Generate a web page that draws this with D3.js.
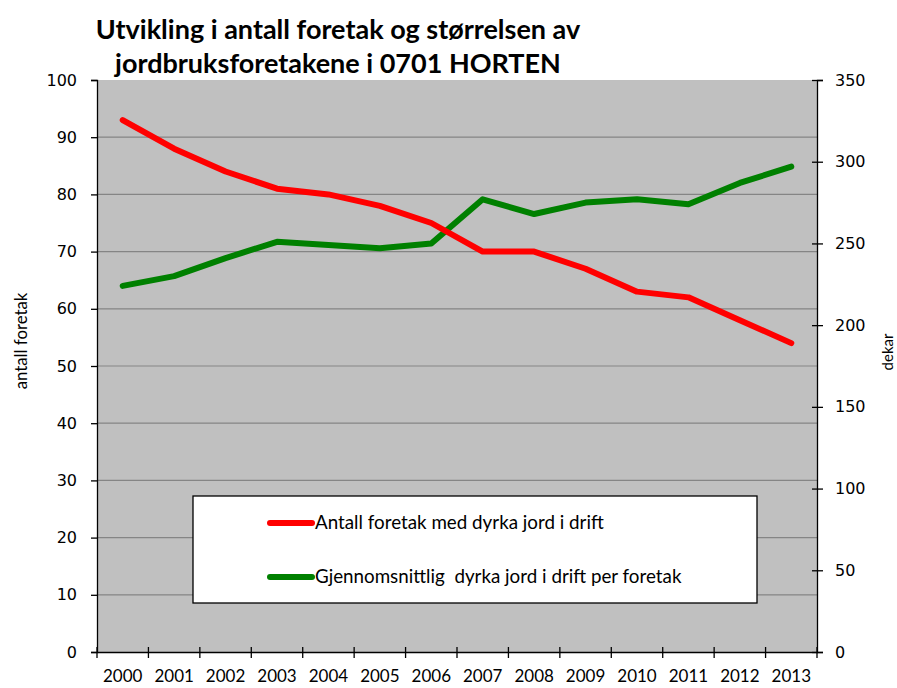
<!DOCTYPE html>
<html>
<head>
<meta charset="utf-8">
<script src="https://cdn.jsdelivr.net/npm/d3@7"></script>
<style>
  body { margin: 0; background: #fff; }
  svg { display: block; }
</style>
</head>
<body>
<div id="chart"></div>
<script>
// Horten: antall foretak og gjennomsnittlig dyrka jord per foretak

const years = ['2000', '2001', '2002', '2003', '2004', '2005', '2006',
  '2007', '2008', '2009', '2010', '2011', '2012', '2013'];
const antallForetak = [93, 88, 84, 81, 80, 78, 75, 70, 70, 67, 63, 62, 58, 54];
const dekarPerForetak = [224, 230, 241, 251, 249, 247, 250, 277, 268, 275, 277, 274, 287, 297];
const leftTicks = [0, 10, 20, 30, 40, 50, 60, 70, 80, 90, 100];
const rightTicks = [0, 50, 100, 150, 200, 250, 300, 350];
const titleLines = ['Utvikling i antall foretak og størrelsen av', 'jordbruksforetakene i 0701 HORTEN'];
const legendLabels = ['Antall foretak med dyrka jord i drift', 'Gjennomsnittlig  dyrka jord i drift per foretak'];

const width = 897;
const height = 688;
const plot = { left: 97, right: 817, top: 80, bottom: 652 };
const labelFont = 'Lato, "Open Sans", sans-serif';
const tickFont = 'Verdana, "DejaVu Sans", sans-serif';

const svg = d3.select('#chart')
  .append('svg')
  .attr('width', width)
  .attr('height', height);

const x = d3.scaleBand()
  .domain(years)
  .range([plot.left, plot.right]);

const yLeft = d3.scaleLinear()
  .domain([0, 100])
  .range([plot.bottom, plot.top]);

const yRight = d3.scaleLinear()
  .domain([0, 350])
  .range([plot.bottom, plot.top]);

// plot area background
svg.append('rect')
  .attr('x', plot.left)
  .attr('y', plot.top)
  .attr('width', plot.right - plot.left)
  .attr('height', plot.bottom - plot.top)
  .attr('fill', '#c0c0c0');

// gridlines
svg.append('g')
  .selectAll('line')
  .data(leftTicks.filter(d => d > 0 && d < 100))
  .enter().append('line')
  .attr('x1', plot.left)
  .attr('x2', plot.right)
  .attr('y1', d => yLeft(d))
  .attr('y2', d => yLeft(d))
  .attr('stroke', '#858585')
  .attr('stroke-width', 1.2);

// left axis
const leftAxis = svg.append('g')
  .attr('transform', `translate(${plot.left},0)`)
  .call(d3.axisLeft(yLeft).tickValues(leftTicks).tickSize(6).tickPadding(14));
leftAxis.select('.domain').attr('stroke', '#000').attr('stroke-width', 1.3);
leftAxis.selectAll('.tick line').attr('stroke', '#000').attr('stroke-width', 1.3);
leftAxis.selectAll('.tick text')
  .attr('font-family', tickFont)
  .attr('font-size', 16)
  .attr('fill', '#000');

// right axis
const rightAxis = svg.append('g')
  .attr('transform', `translate(${plot.right},0)`)
  .call(d3.axisRight(yRight).tickValues(rightTicks).tickSize(6).tickPadding(12));
rightAxis.select('.domain').attr('stroke', '#000').attr('stroke-width', 1.3);
rightAxis.selectAll('.tick line')
  .attr('x1', -5)
  .attr('stroke', '#000')
  .attr('stroke-width', 1.3);
rightAxis.selectAll('.tick text')
  .attr('font-family', tickFont)
  .attr('font-size', 16)
  .attr('fill', '#000');

// bottom axis (ticks between categories)
const bottomAxis = svg.append('g')
  .attr('transform', `translate(0,${plot.bottom})`)
  .call(d3.axisBottom(x).tickSize(0).tickPadding(18));
bottomAxis.select('.domain').attr('stroke', '#000').attr('stroke-width', 1.3);
bottomAxis.selectAll('.tick text')
  .attr('font-family', labelFont)
  .attr('font-size', 17)
  .attr('fill', '#000');
bottomAxis.selectAll('.sep')
  .data(years.concat(['end']))
  .enter().append('line')
  .attr('class', 'sep')
  .attr('x1', (d, i) => plot.left + i * x.bandwidth())
  .attr('x2', (d, i) => plot.left + i * x.bandwidth())
  .attr('y1', -5)
  .attr('y2', 6)
  .attr('stroke', '#000')
  .attr('stroke-width', 1.3);

// data lines
const xc = d => x(d) + x.bandwidth() / 2;

const lineLeft = d3.line()
  .x((d, i) => xc(years[i]))
  .y(d => yLeft(d));

const lineRight = d3.line()
  .x((d, i) => xc(years[i]))
  .y(d => yRight(d));

svg.append('path')
  .datum(dekarPerForetak)
  .attr('d', lineRight)
  .attr('fill', 'none')
  .attr('stroke', '#008000')
  .attr('stroke-width', 6)
  .attr('stroke-linejoin', 'round')
  .attr('stroke-linecap', 'round');

svg.append('path')
  .datum(antallForetak)
  .attr('d', lineLeft)
  .attr('fill', 'none')
  .attr('stroke', '#ff0000')
  .attr('stroke-width', 6)
  .attr('stroke-linejoin', 'round')
  .attr('stroke-linecap', 'round');

// legend
const legend = svg.append('g');
legend.append('rect')
  .attr('x', 193)
  .attr('y', 496)
  .attr('width', 564)
  .attr('height', 107)
  .attr('fill', '#fff')
  .attr('stroke', '#000')
  .attr('stroke-width', 1.3);

const legendColors = ['#ff0000', '#008000'];
legendLabels.forEach((label, i) => {
  const ly = 523 + i * 54;
  legend.append('line')
    .attr('x1', 270)
    .attr('x2', 312)
    .attr('y1', ly)
    .attr('y2', ly)
    .attr('stroke', legendColors[i])
    .attr('stroke-width', 6)
    .attr('stroke-linecap', 'round');
  legend.append('text')
    .attr('x', 315)
    .attr('y', ly + 6)
    .attr('font-family', labelFont)
    .attr('font-size', 18.8)
    .attr('fill', '#000')
    .style('white-space', 'pre')
    .text(label);
});

// axis titles
svg.append('text')
  .attr('transform', 'translate(27,341) rotate(-90)')
  .attr('text-anchor', 'middle')
  .attr('font-family', labelFont)
  .attr('font-size', 16.8)
  .attr('fill', '#000')
  .text('antall foretak');

svg.append('text')
  .attr('transform', 'translate(893,352) rotate(-90)')
  .attr('text-anchor', 'middle')
  .attr('font-family', labelFont)
  .attr('font-size', 15)
  .attr('fill', '#000')
  .text('dekar');

// title
svg.append('g')
  .selectAll('text')
  .data(titleLines)
  .enter().append('text')
  .attr('x', 338)
  .attr('y', (d, i) => 39 + i * 34)
  .attr('text-anchor', 'middle')
  .attr('font-family', labelFont)
  .attr('font-weight', 'bold')
  .attr('font-size', 27)
  .attr('fill', '#000')
  .text(d => d);
</script>
</body>
</html>
